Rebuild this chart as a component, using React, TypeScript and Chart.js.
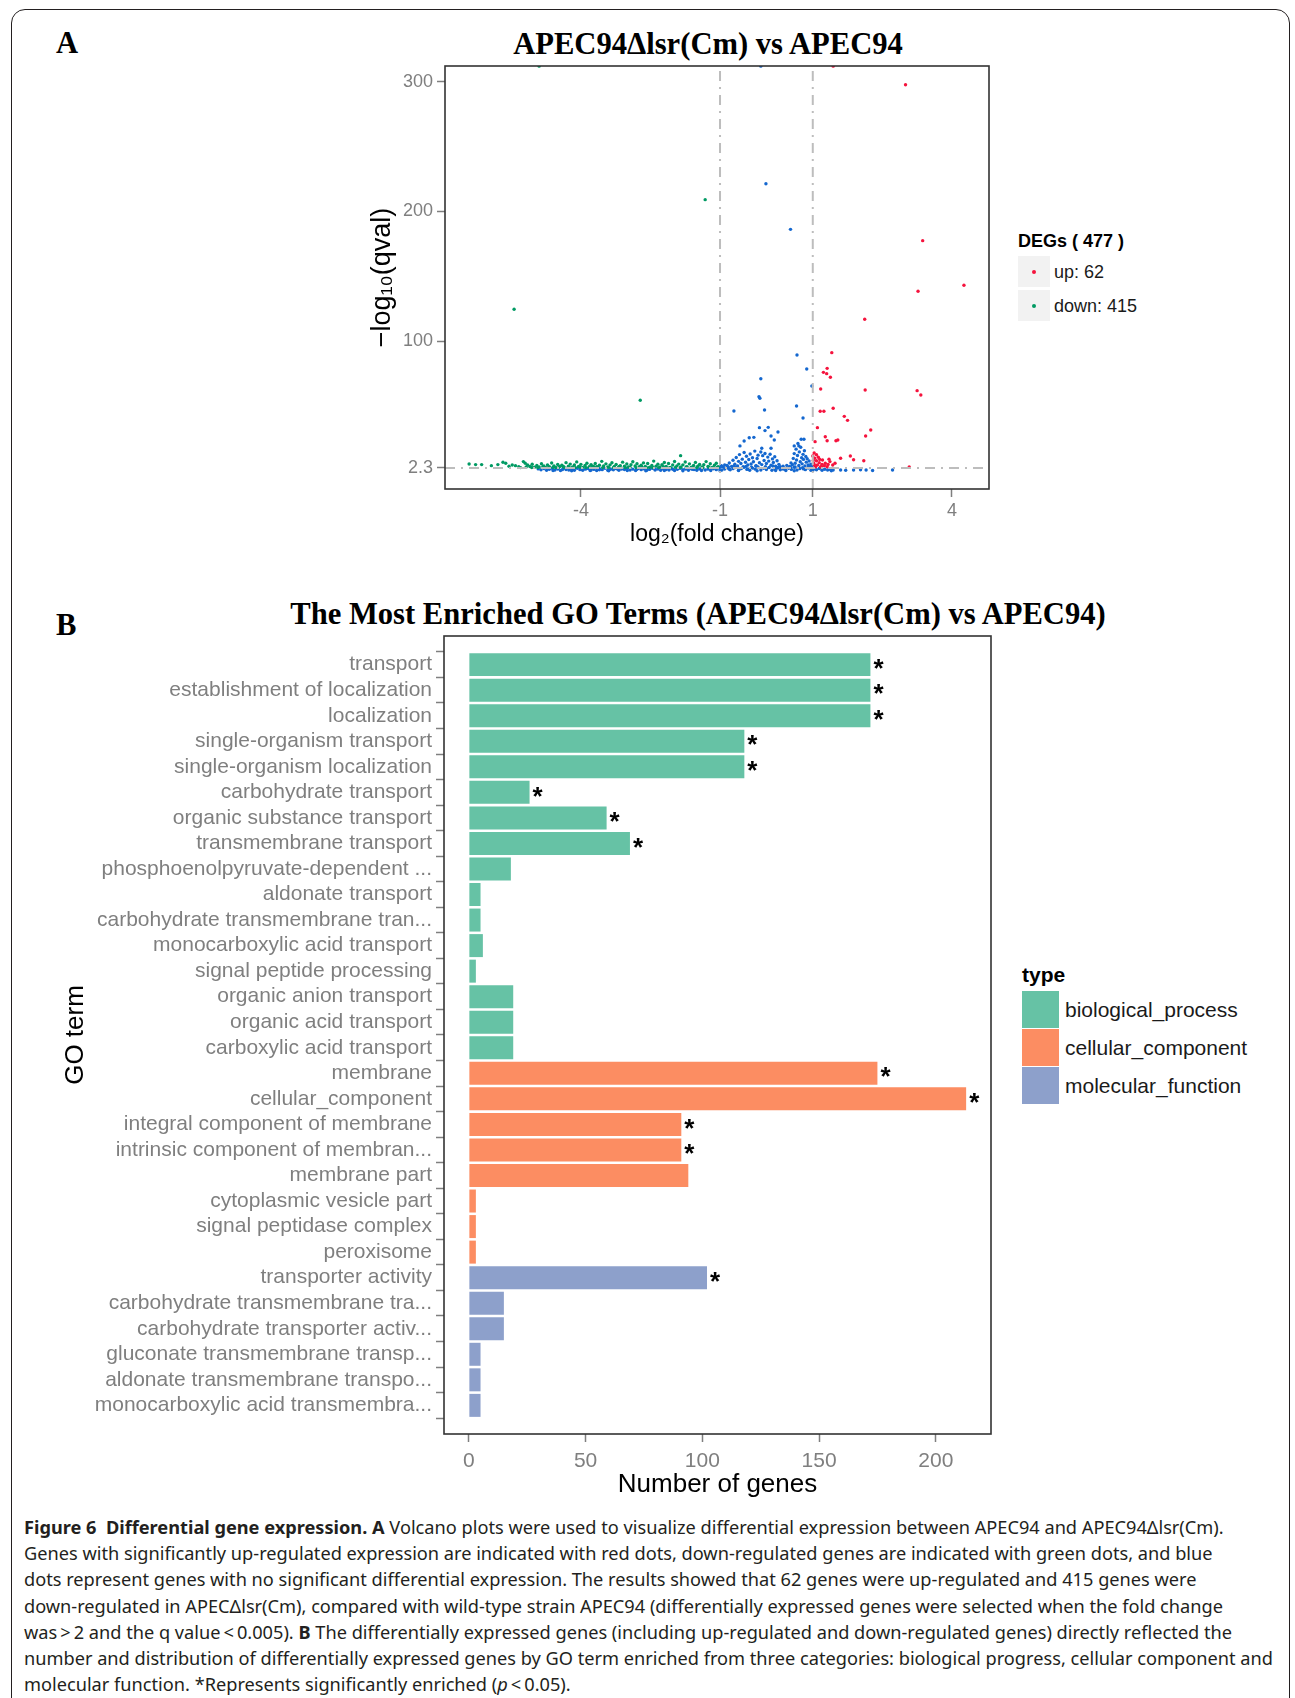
import React, { useEffect, useRef } from "react";
import { Chart, registerables } from "chart.js";

Chart.register(...registerables);

const SANS = '"Liberation Sans", Arial, Helvetica, sans-serif';
const SERIF = '"Liberation Serif", "Times New Roman", serif';
const CAPTION_FONT = '"Noto Sans", "Open Sans", sans-serif';
const AXIS_GREY = "#7f7f7f";

// ---------------- Panel A: volcano plot ----------------
const volcanoTitle = "APEC94Δlsr(Cm) vs APEC94";
const volcanoXLabel = "log₂(fold change)";
const volcanoYLabel = "−log₁₀(qval)";
const volcanoXTicks = [-4, -1, 1, 4];
const volcanoYTicks = [2.3, 100, 200, 300];
const foldThresholds = [-1, 1];
const qvalThreshold = 2.3;
const volcanoXRange = [-6.93, 4.8];
const volcanoYRange = [-13.9, 312.1];
const upCount = 62;
const downCount = 415;
const upColor = "#f5133d";
const downColor = "#009a63";
const nsColor = "#1467cf";

const upPoints: number[][] = [
  [3.0, 297.7], [3.37, 177.5], [4.26, 143.1], [3.27, 138.5], [2.12, 116.9], [1.44, 312],
  [1.41, 91.2], [1.31, 79.1], [1.23, 76.0], [1.30, 75.0], [1.38, 72.2], [1.17, 63.2],
  [2.13, 62.4], [3.25, 61.9], [3.33, 58.6], [1.16, 46.0], [1.24, 46.0], [1.44, 48.3],
  [1.68, 42.1], [1.75, 39.0], [1.10, 33.4], [2.25, 31.6], [2.14, 27.0], [1.27, 26.4],
  [1.31, 23.3], [1.50, 23.3], [1.54, 23.9], [1.05, 22.6], [1.81, 11.5], [1.88, 8.7],
  [1.60, 9.8], [1.35, 9.1], [2.10, 7.9], [3.08, 3.1], [1.00, 11.5], [1.04, 9.8],
  [1.08, 7.9], [1.14, 6.4], [1.20, 5.1], [1.25, 4.1], [1.31, 3.3], [1.37, 7.2],
  [1.43, 4.6], [1.02, 5.9], [1.10, 4.6], [1.17, 3.3], [1.48, 5.9], [1.21, 8.5],
  [1.03, 13.8], [1.06, 3.2], [1.12, 10.6], [1.01, 8.0], [1.08, 12.5], [1.19, 3.0],
  [1.27, 6.0], [1.04, 4.4], [1.15, 8.9], [1.33, 5.0],
];

const downPoints: number[][] = [
  [-1.32, 209.1], [-5.44, 124.6], [-2.72, 54.5], [-1.85, 11.8], [-4.9, 312],
  [-6.41, 5.4], [-6.27, 4.9], [-6.14, 4.9], [-5.93, 4.1], [-5.79, 4.9], [-5.68, 6.7],
  [-5.62, 5.9], [-5.55, 3.6], [-5.48, 4.6], [-5.41, 4.1], [-5.34, 3.2], [-5.24, 7.2],
  [-5.2, 5.9], [-5.15, 4.6], [-5.1, 3.4], [-5.05, 5.2], [-5.0, 2.9], [-4.95, 4.3],
  [-4.9, 3.1], [-4.85, 5.6], [-4.8, 3.8], [-4.76, 2.8], [-4.72, 4.7], [-4.68, 3.3],
  [-4.63, 6.1], [-4.58, 3.9], [-4.54, 2.7], [-4.5, 5.0], [-4.45, 3.5], [-4.41, 4.4],
  [-4.36, 2.9], [-4.32, 6.4], [-4.27, 3.7], [-4.23, 5.3], [-4.18, 3.0], [-4.14, 4.6],
  [-4.09, 7.0], [-4.05, 3.4], [-4.0, 5.1], [-3.96, 2.8], [-3.91, 4.2], [-3.87, 6.0],
  [-3.82, 3.3], [-3.78, 4.9], [-3.73, 3.6], [-3.69, 5.7], [-3.64, 2.9], [-3.6, 4.4],
  [-3.55, 7.4], [-3.51, 3.8], [-3.46, 5.5], [-3.42, 3.1], [-3.37, 4.7], [-3.33, 6.3],
  [-3.28, 3.5], [-3.24, 5.0], [-3.19, 2.8], [-3.15, 4.1], [-3.1, 6.8], [-3.06, 3.6],
  [-3.01, 5.4], [-2.97, 3.0], [-2.92, 4.8], [-2.88, 7.1], [-2.83, 3.9], [-2.79, 5.6],
  [-2.74, 3.2], [-2.7, 4.5], [-2.65, 6.2], [-2.61, 3.4], [-2.56, 5.8], [-2.52, 2.9],
  [-2.47, 4.3], [-2.43, 7.6], [-2.38, 3.7], [-2.34, 5.2], [-2.29, 3.1], [-2.25, 4.9],
  [-2.2, 6.5], [-2.16, 3.5], [-2.11, 5.7], [-2.07, 2.8], [-2.02, 4.6], [-1.98, 7.3],
  [-1.93, 3.8], [-1.89, 5.3], [-1.84, 3.0], [-1.8, 4.7], [-1.75, 6.9], [-1.71, 3.3],
  [-1.66, 5.5], [-1.62, 2.9], [-1.57, 4.2], [-1.53, 6.6], [-1.48, 3.6], [-1.44, 5.0],
  [-1.39, 3.1], [-1.35, 4.8], [-1.3, 7.2], [-1.26, 3.4], [-1.21, 5.6], [-1.17, 2.8],
  [-1.12, 4.4], [-1.08, 6.0], [-1.04, 3.2],
  [-5.3, 2.6], [-5.18, 3.0], [-5.06, 2.7], [-4.93, 2.6], [-4.82, 3.2], [-4.7, 2.6],
  [-4.6, 2.9], [-4.48, 2.6], [-4.38, 3.4], [-4.25, 2.7], [-4.12, 2.6], [-4.02, 3.1],
  [-3.89, 2.6], [-3.76, 2.7], [-3.66, 3.3], [-3.53, 2.6], [-3.4, 2.8], [-3.3, 2.6],
  [-3.17, 3.4], [-3.04, 2.6], [-2.94, 2.8], [-2.81, 2.6], [-2.68, 3.1], [-2.58, 2.6],
  [-2.45, 2.7], [-2.32, 2.6], [-2.22, 3.3], [-2.09, 2.6], [-1.96, 2.8], [-1.86, 2.6],
  [-1.73, 3.0], [-1.6, 2.6], [-1.5, 2.7], [-1.37, 2.6], [-1.24, 3.1], [-1.14, 2.6],
  [-1.06, 2.7],
];

const nsPoints: number[][] = [
  [-0.01, 221.4], [0.52, 186.2], [0.66, 89.4], [0.87, 78.6], [-0.12, 71.1], [0.98, 65.5],
  [-0.16, 57.2], [-0.14, 56.0], [0.65, 50.1], [-0.70, 46.2], [-0.04, 47.0], [0.79, 40.8],
  [-0.15, 33.4], [0.04, 33.6], [-0.03, 31.1], [0.25, 30.0], [-0.27, 25.9], [-0.37, 25.6],
  [0.10, 27.0], [0.17, 23.9], [0.75, 24.4], [0.81, 24.4], [-0.48, 23.1], [-0.57, 19.3],
  [-0.10, 17.5], [0.10, 17.5], [0.60, 19.3], [0.70, 19.3], [-0.12, 312],
  [1.60, 0.8], [1.71, 0.6], [1.88, 0.8], [2.03, 0.9], [2.15, 0.7], [2.29, 0.4], [2.72, 0.8],
  [-0.85, 4.2], [-0.8, 6.1], [-0.75, 3.5], [-0.72, 8.3], [-0.68, 5.2], [-0.65, 10.4],
  [-0.62, 3.9], [-0.6, 7.4], [-0.58, 12.6], [-0.55, 5.8], [-0.52, 9.1], [-0.5, 3.2],
  [-0.48, 14.2], [-0.45, 6.7], [-0.43, 11.3], [-0.4, 4.6], [-0.38, 8.8], [-0.35, 13.1],
  [-0.33, 5.4], [-0.3, 10.2], [-0.28, 7.1], [-0.25, 15.3], [-0.23, 3.8], [-0.2, 9.6],
  [-0.18, 12.2], [-0.15, 6.3], [-0.12, 14.6], [-0.1, 4.9], [-0.08, 11.8], [-0.05, 8.1],
  [-0.03, 13.5], [0, 5.7], [0.03, 10.7], [0.05, 7.6], [0.08, 12.9], [0.1, 4.4],
  [0.13, 9.3], [0.15, 6.5], [0.18, 11.0], [0.2, 3.6], [0.23, 7.9], [0.27, 5.1],
  [0.3, 3.3], [-0.93, 3.1], [-0.97, 4.0],
  [0.5, 3.4], [0.53, 6.2], [0.56, 4.8], [0.58, 9.7], [0.6, 13.4], [0.62, 5.9],
  [0.64, 16.8], [0.65, 8.4], [0.67, 11.9], [0.68, 21.2], [0.7, 4.3], [0.71, 14.7],
  [0.73, 7.1], [0.74, 18.3], [0.76, 10.2], [0.77, 5.5], [0.79, 12.8], [0.8, 8.9],
  [0.82, 15.6], [0.83, 3.9], [0.85, 11.1], [0.86, 6.8], [0.88, 9.5], [0.9, 4.7],
  [0.92, 7.7], [0.94, 3.6], [0.96, 5.3], [0.98, 3.2],
  [-4.92, 1.6], [-4.86, 0.9], [-4.8, 1.9], [-4.74, 0.6], [-4.68, 1.3], [-4.62, 2.0],
  [-4.56, 0.8], [-4.5, 1.5], [-4.44, 0.4], [-4.38, 1.8], [-4.32, 1.1], [-4.26, 0.7],
  [-4.2, 1.6], [-4.14, 0.5], [-4.08, 2.1], [-4.02, 1.0], [-3.96, 0.6], [-3.9, 1.4],
  [-3.84, 1.9], [-3.78, 0.8], [-3.72, 1.2], [-3.66, 0.4], [-3.6, 1.7], [-3.54, 1.0],
  [-3.48, 2.0], [-3.42, 0.6], [-3.36, 1.3], [-3.3, 0.9], [-3.24, 1.8], [-3.18, 0.5],
  [-3.12, 1.5], [-3.06, 1.1], [-3.0, 2.1], [-2.94, 0.7], [-2.88, 1.4], [-2.82, 0.4],
  [-2.76, 1.9], [-2.7, 1.0], [-2.64, 1.6], [-2.58, 0.6], [-2.52, 1.2], [-2.46, 2.0],
  [-2.4, 0.8], [-2.34, 1.5], [-2.28, 0.5], [-2.22, 1.8], [-2.16, 1.1], [-2.1, 0.7],
  [-2.04, 1.7], [-1.98, 0.4], [-1.92, 1.3], [-1.86, 2.1], [-1.8, 0.9], [-1.74, 1.5],
  [-1.68, 0.6], [-1.62, 1.9], [-1.56, 1.1], [-1.5, 0.5], [-1.44, 1.6], [-1.38, 2.0],
  [-1.32, 0.8], [-1.26, 1.4], [-1.2, 0.4], [-1.14, 1.7], [-1.08, 1.0], [-1.02, 2.1],
  [-0.96, 0.7], [-0.9, 1.5], [-0.84, 2.4], [-0.78, 0.9], [-0.72, 1.8], [-0.66, 2.6],
  [-0.6, 0.6], [-0.54, 1.9], [-0.48, 2.8], [-0.42, 1.2], [-0.36, 0.5], [-0.3, 2.2],
  [-0.24, 1.4], [-0.18, 3.0], [-0.12, 0.8], [-0.06, 2.0], [0.0, 1.1], [0.06, 2.7],
  [0.12, 0.6], [0.18, 1.7], [0.24, 2.3], [0.3, 0.9], [0.36, 1.5], [0.42, 0.4],
  [0.48, 2.0], [0.54, 1.2], [0.6, 2.9], [0.66, 0.7], [0.72, 1.8], [0.78, 2.5],
  [0.84, 1.0], [0.9, 2.2], [0.96, 0.5], [1.02, 1.6], [1.08, 0.9], [1.14, 1.9],
  [1.2, 0.6], [1.26, 1.3], [1.32, 0.8], [1.38, 1.1], [1.44, 0.7],
  [-4.6, 0.3], [-4.4, 1.0], [-4.2, 0.2], [-4.0, 1.5], [-3.8, 0.3], [-3.6, 0.9],
  [-3.4, 0.2], [-3.2, 1.2], [-3.0, 0.3], [-2.8, 1.1], [-2.6, 0.2], [-2.4, 1.4],
  [-2.2, 0.3], [-2.0, 1.0], [-1.8, 0.2], [-1.6, 1.3], [-1.4, 0.3], [-1.2, 1.1],
  [-1.0, 0.2], [-0.8, 1.4], [-0.6, 0.3], [-0.4, 1.6], [-0.2, 0.2], [0.0, 1.9],
  [0.2, 0.3], [0.4, 1.3], [0.6, 0.2], [0.8, 1.6], [1.0, 0.3], [1.2, 1.5], [1.4, 0.2],
  [-0.98, 3.4], [-0.9, 4.6], [-0.82, 3.0], [-0.7, 3.9], [-0.64, 2.9], [-0.44, 3.5],
  [-0.32, 2.9], [-0.22, 4.1], [-0.02, 3.2], [0.14, 3.8], [0.26, 2.9], [0.36, 3.6],
  [0.44, 4.3], [0.52, 2.8], [0.62, 3.1], [0.7, 2.7], [0.9, 3.0], [0.96, 2.8],
];

// ---------------- Panel B: GO enrichment ----------------
const goTitle = "The Most Enriched GO Terms (APEC94Δlsr(Cm) vs APEC94)";
const goTerms = [
  "transport",
  "establishment of localization",
  "localization",
  "single-organism transport",
  "single-organism localization",
  "carbohydrate transport",
  "organic substance transport",
  "transmembrane transport",
  "phosphoenolpyruvate-dependent ...",
  "aldonate transport",
  "carbohydrate transmembrane tran...",
  "monocarboxylic acid transport",
  "signal peptide processing",
  "organic anion transport",
  "organic acid transport",
  "carboxylic acid transport",
  "membrane",
  "cellular_component",
  "integral component of membrane",
  "intrinsic component of membran...",
  "membrane part",
  "cytoplasmic vesicle part",
  "signal peptidase complex",
  "peroxisome",
  "transporter activity",
  "carbohydrate transmembrane tra...",
  "carbohydrate transporter activ...",
  "gluconate transmembrane transp...",
  "aldonate transmembrane transpo...",
  "monocarboxylic acid transmembra...",
];
const goCounts = [
  172, 172, 172, 118, 118, 26, 59, 69, 18, 5, 5, 6, 3, 19, 19, 19,
  175, 213, 91, 91, 94, 3, 3, 3,
  102, 15, 15, 5, 5, 5,
];
const goTypes = [
  "biological_process", "biological_process", "biological_process", "biological_process",
  "biological_process", "biological_process", "biological_process", "biological_process",
  "biological_process", "biological_process", "biological_process", "biological_process",
  "biological_process", "biological_process", "biological_process", "biological_process",
  "cellular_component", "cellular_component", "cellular_component", "cellular_component",
  "cellular_component", "cellular_component", "cellular_component", "cellular_component",
  "molecular_function", "molecular_function", "molecular_function", "molecular_function",
  "molecular_function", "molecular_function",
];
const goSignificant = [
  true, true, true, true, true, true, true, true, false, false, false, false, false, false, false, false,
  true, true, true, true, false, false, false, false,
  true, false, false, false, false, false,
];
const typeNames = ["biological_process", "cellular_component", "molecular_function"];
const typeColors = ["#66c2a5", "#fc8d62", "#8da0cb"];
const goXTicks = [0, 50, 100, 150, 200];
const goXRange = [-10.65, 223.65];

const panelBorder = {
  id: "panelBorder",
  afterDatasetsDraw(chart: any) {
    const { ctx, chartArea } = chart;
    ctx.save();
    ctx.strokeStyle = "#333333";
    ctx.lineWidth = 1.6;
    ctx.strokeRect(chartArea.left, chartArea.top, chartArea.right - chartArea.left, chartArea.bottom - chartArea.top);
    ctx.restore();
  },
};

const starPlugin = {
  id: "stars",
  afterDatasetsDraw(chart: any) {
    const { ctx } = chart;
    const meta = chart.getDatasetMeta(0);
    ctx.save();
    ctx.fillStyle = "#000";
    ctx.font = `bold 26px ${SANS}`;
    ctx.textAlign = "left";
    ctx.textBaseline = "middle";
    meta.data.forEach((bar: any, i: number) => {
      if (goSignificant[i]) ctx.fillText("*", bar.x + 3, bar.y + 5);
    });
    ctx.restore();
  },
};

const toXY = (arr: number[][]) => arr.map(([x, y]) => ({ x, y }));

const noYPad = (width: number) => (s: any) => {
  s.width = width;
  s.paddingTop = 0;
  s.paddingBottom = 0;
};
const noXPad = (height: number) => (s: any) => {
  s.height = height;
  s.paddingLeft = 0;
  s.paddingRight = 0;
};

function VolcanoChart() {
  const ref = useRef<HTMLCanvasElement>(null);
  useEffect(() => {
    const lineStyle = {
      showLine: true,
      pointRadius: 0,
      borderColor: "#bdbdbd",
      borderWidth: 2,
      borderDash: [10, 6, 2, 6],
      order: 0,
    };
    const pointStyle = (color: string, order: number) => ({
      backgroundColor: color,
      borderWidth: 0,
      pointRadius: 1.7,
      pointHoverRadius: 1.7,
      order,
    });
    const chart = new Chart(ref.current!, {
      type: "scatter",
      data: {
        datasets: [
          { ...pointStyle(nsColor, 3), label: "no", data: toXY(nsPoints) },
          { ...pointStyle(downColor, 2), label: "down", data: toXY(downPoints) },
          { ...pointStyle(upColor, 1), label: "up", data: toXY(upPoints) },
          ...foldThresholds.map((t) => ({
            ...lineStyle,
            label: "fc",
            data: [{ x: t, y: volcanoYRange[0] }, { x: t, y: volcanoYRange[1] }],
          })),
          {
            ...lineStyle,
            label: "q",
            data: [{ x: volcanoXRange[0], y: qvalThreshold }, { x: volcanoXRange[1], y: qvalThreshold }],
          },
        ] as any,
      },
      options: {
        animation: false,
        responsive: false,
        devicePixelRatio: 1,
        events: [],
        layout: { padding: { top: 10, right: 11, bottom: 0, left: 0 } },
        plugins: { legend: { display: false }, tooltip: { enabled: false } },
        scales: {
          x: {
            type: "linear",
            min: volcanoXRange[0],
            max: volcanoXRange[1],
            afterBuildTicks: (s: any) => { s.ticks = volcanoXTicks.map((v) => ({ value: v })); },
            afterFit: noXPad(62),
            ticks: { color: AXIS_GREY, font: { family: SANS, size: 18 }, padding: 3, callback: (v: any) => String(v) },
            grid: { drawOnChartArea: false, tickLength: 8, tickColor: AXIS_GREY, tickWidth: 1.5 },
            border: { display: false },
            title: { display: true, text: volcanoXLabel, color: "#000", font: { family: SANS, size: 23 }, padding: { top: 0, bottom: 3 } },
          },
          y: {
            type: "linear",
            min: volcanoYRange[0],
            max: volcanoYRange[1],
            afterBuildTicks: (s: any) => { s.ticks = volcanoYTicks.map((v) => ({ value: v })); },
            afterFit: noYPad(115),
            ticks: { color: AXIS_GREY, font: { family: SANS, size: 18 }, padding: 4, callback: (v: any) => String(v) },
            grid: { drawOnChartArea: false, tickLength: 8, tickColor: AXIS_GREY, tickWidth: 1.5 },
            border: { display: false },
            title: { display: true, text: volcanoYLabel, color: "#000", font: { family: SANS, size: 27 }, padding: { top: 36, bottom: 0 } },
          },
        },
      } as any,
      plugins: [panelBorder],
    });
    return () => chart.destroy();
  }, []);
  return <canvas ref={ref} width={670} height={495} style={{ position: "absolute", left: 330, top: 56 }} />;
}

function GoChart() {
  const ref = useRef<HTMLCanvasElement>(null);
  useEffect(() => {
    const chart = new Chart(ref.current!, {
      type: "bar",
      data: {
        datasets: [
          {
            label: "genes",
            data: goCounts.map((v, i) => ({ x: v, y: i })),
            backgroundColor: goTypes.map((t) => typeColors[typeNames.indexOf(t)]),
            borderWidth: 0,
            categoryPercentage: 0.9,
            barPercentage: 1,
          },
        ] as any,
      },
      options: {
        animation: false,
        responsive: false,
        devicePixelRatio: 1,
        events: [],
        indexAxis: "y",
        layout: { padding: { top: 6, right: 9, bottom: 0, left: 0 } },
        plugins: { legend: { display: false }, tooltip: { enabled: false } },
        scales: {
          x: {
            type: "linear",
            min: goXRange[0],
            max: goXRange[1],
            afterBuildTicks: (s: any) => { s.ticks = goXTicks.map((v) => ({ value: v })); },
            afterFit: noXPad(66),
            ticks: { color: AXIS_GREY, font: { family: SANS, size: 21 }, padding: 7, callback: (v: any) => String(v) },
            grid: { drawOnChartArea: false, tickLength: 8, tickColor: AXIS_GREY, tickWidth: 1.5 },
            border: { display: false },
            title: { display: true, text: "Number of genes", color: "#000", font: { family: SANS, size: 26 }, padding: { top: 0, bottom: 0 } },
          },
          y: {
            type: "linear",
            reverse: true,
            min: -0.6,
            max: goTerms.length - 1 + 0.6,
            afterBuildTicks: (s: any) => { s.ticks = goTerms.map((_, i) => ({ value: i })); },
            afterFit: noYPad(404),
            ticks: { color: AXIS_GREY, font: { family: SANS, size: 21 }, padding: 4, autoSkip: false, callback: (v: any) => goTerms[v] },
            grid: { drawOnChartArea: false, tickLength: 8, tickColor: AXIS_GREY, tickWidth: 1.5 },
            border: { display: false },
            title: { display: true, text: "GO term", color: "#000", font: { family: SANS, size: 26 }, padding: { top: 20, bottom: 0 } },
          },
        },
      } as any,
      plugins: [panelBorder, starPlugin],
    });
    return () => chart.destroy();
  }, []);
  return <canvas ref={ref} width={960} height={870} style={{ position: "absolute", left: 40, top: 630 }} />;
}

const abs = (s: React.CSSProperties): React.CSSProperties => ({ position: "absolute", whiteSpace: "nowrap", ...s });

export default function App() {
  const legendKeyA = (top: number, color: string, text: string) => (
    <>
      <div style={abs({ left: 1018, top, width: 32, height: 31, background: "#f2f2f2" })}>
        <div style={abs({ left: 14, top: 13.5, width: 4, height: 4, borderRadius: 2, background: color })} />
      </div>
      <div style={abs({ left: 1054, top: top + 15.5, transform: "translateY(-50%)", fontFamily: SANS, fontSize: 18, color: "#1a1a1a" })}>{text}</div>
    </>
  );
  return (
    <div style={{ position: "absolute", left: 0, top: 0, width: 1295, height: 1698, overflow: "hidden", background: "#fff" }}>
      <div style={abs({ left: 11, top: 9, width: 1277, height: 1720, border: "1.5px solid #231f20", borderRadius: 14 })} />
      <div style={abs({ left: 56, top: 43, transform: "translateY(-50%)", fontFamily: SERIF, fontWeight: 700, fontSize: 30.6 })}>A</div>
      <div style={abs({ left: 708, top: 44, transform: "translate(-50%,-50%)", fontFamily: SERIF, fontWeight: 700, fontSize: 30.6 })}>{volcanoTitle}</div>
      <VolcanoChart />
      <div style={abs({ left: 1018, top: 241, transform: "translateY(-50%)", fontFamily: SANS, fontWeight: 700, fontSize: 18 })}>
        {`DEGs ( ${upCount + downCount} )`}
      </div>
      {legendKeyA(256, upColor, `up: ${upCount}`)}
      {legendKeyA(290, downColor, `down: ${downCount}`)}

      <div style={abs({ left: 56, top: 625, transform: "translateY(-50%)", fontFamily: SERIF, fontWeight: 700, fontSize: 30.6 })}>B</div>
      <div style={abs({ left: 698, top: 614, transform: "translate(-50%,-50%)", fontFamily: SERIF, fontWeight: 700, fontSize: 30.6 })}>{goTitle}</div>
      <GoChart />
      <div style={abs({ left: 1022, top: 975, transform: "translateY(-50%)", fontFamily: SANS, fontWeight: 700, fontSize: 21 })}>type</div>
      {typeNames.map((t, i) => (
        <React.Fragment key={t}>
          <div style={abs({ left: 1022, top: 991 + i * 38, width: 37, height: 37, background: typeColors[i] })} />
          <div style={abs({ left: 1065, top: 991 + i * 38 + 18.5, transform: "translateY(-50%)", fontFamily: SANS, fontSize: 21, color: "#1a1a1a" })}>{t}</div>
        </React.Fragment>
      ))}

      <div style={abs({ left: 24, top: 1514, fontFamily: CAPTION_FONT, fontSize: 18.2, lineHeight: "26.2px", color: "#231f20" })}>
        <div><b>Figure 6&nbsp; Differential gene expression. A</b> Volcano plots were used to visualize differential expression between APEC94 and APEC94Δlsr(Cm).</div>
        <div>Genes with significantly up-regulated expression are indicated with red dots, down-regulated genes are indicated with green dots, and blue</div>
        <div>dots represent genes with no significant differential expression. The results showed that 62 genes were up-regulated and 415 genes were</div>
        <div>down-regulated in APECΔlsr(Cm), compared with wild-type strain APEC94 (differentially expressed genes were selected when the fold change</div>
        <div>was&thinsp;&gt;&thinsp;2 and the q value&thinsp;&lt;&thinsp;0.005). <b>B</b> The differentially expressed genes (including up-regulated and down-regulated genes) directly reflected the</div>
        <div>number and distribution of differentially expressed genes by GO term enriched from three categories: biological progress, cellular component and</div>
        <div>molecular function. *Represents significantly enriched (<i>p</i>&thinsp;&lt;&thinsp;0.05).</div>
      </div>
    </div>
  );
}
